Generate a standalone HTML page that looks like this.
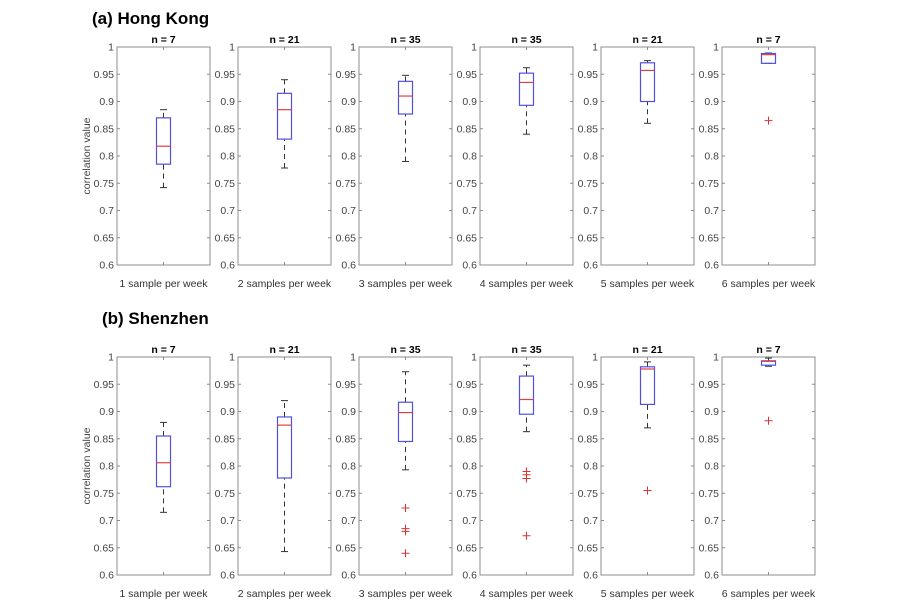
<!DOCTYPE html>
<html><head><meta charset="utf-8">
<style>
body{margin:0;background:#fff;}
svg text{font-family:"Liberation Sans",Arial,sans-serif;}
</style></head>
<body>
<svg id="fig" width="900" height="606" xmlns="http://www.w3.org/2000/svg">
<text x="92" y="24" font-size="17" font-weight="bold" fill="#000">(a) Hong Kong</text>
<text x="102" y="324" font-size="17" font-weight="bold" fill="#000">(b) Shenzhen</text>
</svg>
<script>
const categories = ["1 sample per week","2 samples per week","3 samples per week","4 samples per week","5 samples per week","6 samples per week"];
const counts = [7,21,35,35,21,7];
const yTicks = [0.6,0.65,0.7,0.75,0.8,0.85,0.9,0.95,1];
const yTickLabels = ["0.6","0.65","0.7","0.75","0.8","0.85","0.9","0.95","1"];
// [min, q1, median, q3, max]
const hkStats = [
 [0.742,0.785,0.818,0.870,0.885],
 [0.778,0.831,0.885,0.915,0.940],
 [0.790,0.877,0.910,0.937,0.948],
 [0.840,0.893,0.935,0.952,0.962],
 [0.860,0.900,0.957,0.971,0.975],
 [0.970,0.970,0.986,0.988,0.989]
];
const hkOutliers = [[],[],[],[],[],[0.865]];
const szStats = [
 [0.715,0.762,0.806,0.855,0.880],
 [0.643,0.778,0.875,0.890,0.920],
 [0.793,0.845,0.898,0.917,0.973],
 [0.863,0.895,0.922,0.965,0.985],
 [0.870,0.913,0.978,0.982,0.991],
 [0.983,0.985,0.992,0.993,0.998]
];
const szOutliers = [[],[],[0.723,0.685,0.680,0.640],[0.790,0.784,0.777,0.672],[0.755],[0.883]];

const NS="http://www.w3.org/2000/svg";
const svg=document.getElementById('fig');
function mk(tag,attrs,parent){const e=document.createElementNS(NS,tag);for(const k in attrs)e.setAttribute(k,attrs[k]);(parent||svg).appendChild(e);return e;}
const W=93, step=121, x0=117;
function drawRow(top,bottom,stats,outs,rowName){
  const y=v=>bottom-(v-0.6)/0.4*(bottom-top);
  for(let i=0;i<6;i++){
    const L=x0+i*step, R=L+W, cx=L+W/2;
    const g=mk('g',{});
    
    
    const fr=mk('rect',{x:L,y:top,width:W,height:bottom-top,fill:'none',stroke:'#8c8c8c','stroke-width':1},g);
    
    
    yTicks.forEach((t,k)=>{
      const ty=y(t);
      mk('line',{x1:L,x2:L+3,y1:ty,y2:ty,stroke:'#8c8c8c'},g);
      mk('line',{x1:R-3,x2:R,y1:ty,y2:ty,stroke:'#8c8c8c'},g);
      const tl=mk('text',{x:L-3,y:ty+3.5,'text-anchor':'end','font-size':'10.5',fill:'#444'},g);
      
      
      tl.textContent=yTickLabels[k];
    });
    mk('line',{x1:cx,x2:cx,y1:top,y2:top+3,stroke:'#8c8c8c'},g);
    mk('line',{x1:cx,x2:cx,y1:bottom-3,y2:bottom,stroke:'#8c8c8c'},g);
    const nt=mk('text',{x:cx,y:top-4,'text-anchor':'middle','font-size':'10.5','font-weight':'bold',fill:'#000'},g);
    
    
    nt.textContent='n = '+counts[i];
    const xl=mk('text',{x:cx,y:bottom+22,'text-anchor':'middle','font-size':'10.5',fill:'#333'},g);
    
    
    xl.textContent=categories[i];
    const s=stats[i], bw=14;
    mk('line',{x1:cx,x2:cx,y1:y(s[0]),y2:y(s[1]),stroke:'#333','stroke-dasharray':'5,4'},g);
    mk('line',{x1:cx,x2:cx,y1:y(s[3]),y2:y(s[4]),stroke:'#333','stroke-dasharray':'5,4'},g);
    mk('line',{x1:cx-3.5,x2:cx+3.5,y1:y(s[0]),y2:y(s[0]),stroke:'#333'},g);
    mk('line',{x1:cx-3.5,x2:cx+3.5,y1:y(s[4]),y2:y(s[4]),stroke:'#333'},g);
    const b=mk('rect',{x:cx-bw/2,y:y(s[3]),width:bw,height:y(s[1])-y(s[3]),fill:'none',stroke:'#5050e0','stroke-width':1.2},g);
    
    
    const m=mk('line',{x1:cx-bw/2,x2:cx+bw/2,y1:y(s[2]),y2:y(s[2]),stroke:'#e04040','stroke-width':1.2},g);
    
    
    outs[i].forEach(o=>{
      const oy=y(o);
      const p=mk('path',{d:`M${cx-4},${oy}H${cx+4}M${cx},${oy-4}V${oy+4}`,stroke:'#e03030','stroke-width':1},g);
      
      
    });
    if(i===0){
      const yt=mk('text',{x:0,y:0,'text-anchor':'middle','font-size':'10.5',fill:'#444',transform:`translate(${L-27},${(top+bottom)/2}) rotate(-90)`},g);
      
      
      yt.textContent='correlation value';
    }
  }
}
drawRow(47,265,hkStats,hkOutliers,'hong-kong');
drawRow(357,575,szStats,szOutliers,'shenzhen');
</script>
</body></html>
